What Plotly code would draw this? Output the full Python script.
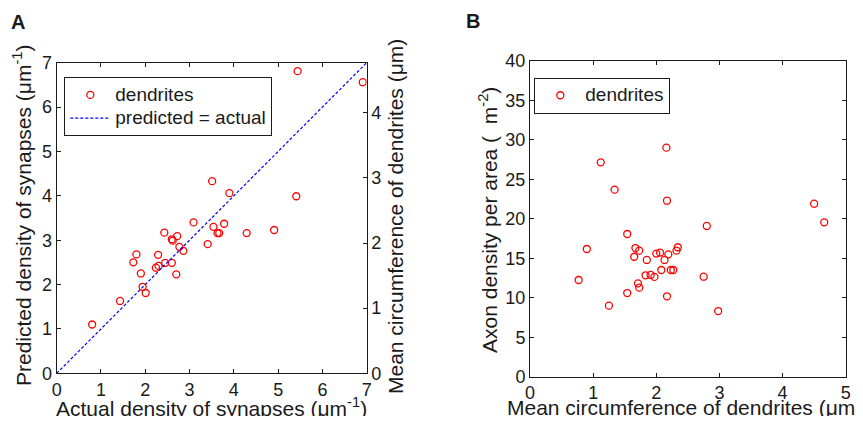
import plotly.graph_objects as go

# Panel A data
actual = [0.80, 1.43, 1.73, 1.80, 1.90, 1.94, 2.01, 2.24, 2.30, 2.29, 2.43, 2.45, 2.60, 2.60, 2.62, 2.70,
          2.72, 2.77, 2.86, 3.09, 3.41, 3.51, 3.54, 3.63, 3.67, 3.78, 3.90, 4.29, 4.91, 5.41, 5.44, 6.91]
predicted = [1.10, 1.63, 2.50, 2.68, 2.25, 1.95, 1.81, 2.38, 2.42, 2.67, 3.17, 2.49, 2.49, 3.02, 2.99, 2.23,
             3.09, 2.85, 2.76, 3.40, 2.91, 4.33, 3.30, 3.16, 3.16, 3.37, 4.06, 3.16, 3.23, 3.99, 6.81, 6.56]
identity = [0, 7]

# Panel B data
circ = [0.77, 0.90, 1.12, 1.25, 1.34, 1.54, 1.54, 1.65, 1.67, 1.73, 1.71, 1.73, 1.85, 1.83, 1.91, 1.97, 2.00,
        2.06, 2.08, 2.13, 2.16, 2.17, 2.17, 2.19, 2.23, 2.27, 2.32, 2.34, 2.75, 2.80, 2.98, 4.50, 4.66]
axon = [12.25, 16.18, 27.16, 9.0, 23.7, 18.08, 10.6, 15.2, 16.3, 15.97, 11.83, 11.28, 14.79, 12.85, 12.89, 12.64,
        15.6, 15.72, 13.52, 14.79, 29.02, 22.3, 10.19, 15.5, 13.52, 13.52, 15.97, 16.4, 12.67, 19.1, 8.32, 21.92, 19.56]

# the page body has an 8px margin; size the figure so it fits the 863x424 window exactly
OFF = 8
W, H = 863 - 2 * OFF, 424 - 2 * OFF
FONT = "Arial, Liberation Sans, sans-serif"
INK = "#1a1a1a"

def px(x):
    return (x - OFF) / W

def py(y):
    return (H - (y - OFF)) / H

def big(s):
    return '<span style="font-size:19px">' + s + '</span>'

fig = go.Figure()
marker = dict(symbol="circle-open", size=7, color="red", line=dict(width=1.3, color="red"))

fig.add_trace(go.Scatter(x=actual, y=predicted, mode="markers", name=big("dendrites"),
                         marker=marker, xaxis="x", yaxis="y", legend="legend"))
fig.add_trace(go.Scatter(x=identity, y=identity, mode="lines", name=big("predicted = actual"),
                         line=dict(color="blue", width=1.2, dash="3px,2px"), xaxis="x", yaxis="y", legend="legend"))
fig.add_trace(go.Scatter(x=[], y=[], mode="markers", showlegend=False, xaxis="x", yaxis="y2"))
fig.add_trace(go.Scatter(x=circ, y=axon, mode="markers", name=big("dendrites"),
                         marker=marker, xaxis="x2", yaxis="y3", legend="legend2"))

axcommon = dict(showline=True, linecolor=INK, linewidth=1, ticks="inside", ticklen=4, tickcolor=INK,
                tickfont=dict(family=FONT, size=18, color=INK), showgrid=False, zeroline=False,
                automargin=False)

legfont = dict(family=FONT, size=15.5, color=INK)
fig.update_layout(
    width=W, height=H, margin=dict(l=0, r=0, t=0, b=0, pad=0, autoexpand=False),
    paper_bgcolor="white", plot_bgcolor="white",
    font=dict(family=FONT, color=INK),
    xaxis=dict(domain=[px(56.7), px(366.7)], range=[0, 7], dtick=1, mirror="ticks", anchor="y", **axcommon),
    yaxis=dict(domain=[py(373.3), py(62.7)], range=[0, 7], dtick=1, mirror=False, anchor="x", **axcommon),
    yaxis2=dict(overlaying="y", side="right", range=[0, 4.77], dtick=1, anchor="x", **axcommon),
    xaxis2=dict(domain=[px(530), px(845.7)], range=[0, 5], dtick=1, mirror="ticks", anchor="y3", **axcommon),
    yaxis3=dict(domain=[py(376.7), py(61)], range=[0, 40], dtick=5, mirror="ticks", anchor="x2", **axcommon),
    legend=dict(x=px(64.3), y=py(77.3), xanchor="left", yanchor="top", bgcolor="white",
                bordercolor=INK, borderwidth=1, font=legfont, itemwidth=40, tracegroupgap=0),
    legend2=dict(x=px(534.3), y=py(77.7), xanchor="left", yanchor="top", bgcolor="white",
                 bordercolor=INK, borderwidth=1, font=legfont, itemwidth=40),
    showlegend=True,
)

ann = [
    dict(text="<b>A</b>", x=px(9), y=py(22), xanchor="left", yanchor="middle", font=dict(size=20)),
    dict(text="<b>B</b>", x=px(464), y=py(21), xanchor="left", yanchor="middle", font=dict(size=20)),
    dict(text="Actual density of synapses (\u03bcm<sup>-1</sup>)", x=px(211.7), y=py(407),
         xanchor="center", yanchor="middle", font=dict(size=21)),
    dict(text="Predicted density of synapses (\u03bcm<sup>-1</sup>)", x=px(22), y=py(216),
         xanchor="center", yanchor="middle", textangle=-90, font=dict(size=21)),
    dict(text="Mean circumference of dendrites (\u03bcm)", x=px(396), y=py(217),
         xanchor="center", yanchor="middle", textangle=-90, font=dict(size=21)),
    dict(text="Mean circumference of dendrites (\u03bcm)", x=px(684), y=py(407),
         xanchor="center", yanchor="middle", font=dict(size=21)),
    dict(text="Axon density per area (\u00a0\u00a0m<sup>-2</sup>)", x=px(488), y=py(220),
         xanchor="center", yanchor="middle", textangle=-90, font=dict(size=21)),
]
for a in ann:
    a.update(xref="paper", yref="paper", showarrow=False)
    a["font"] = dict(family=FONT, color=INK, **a["font"])
fig.update_layout(annotations=ann)

fig.write_html("out.html")
